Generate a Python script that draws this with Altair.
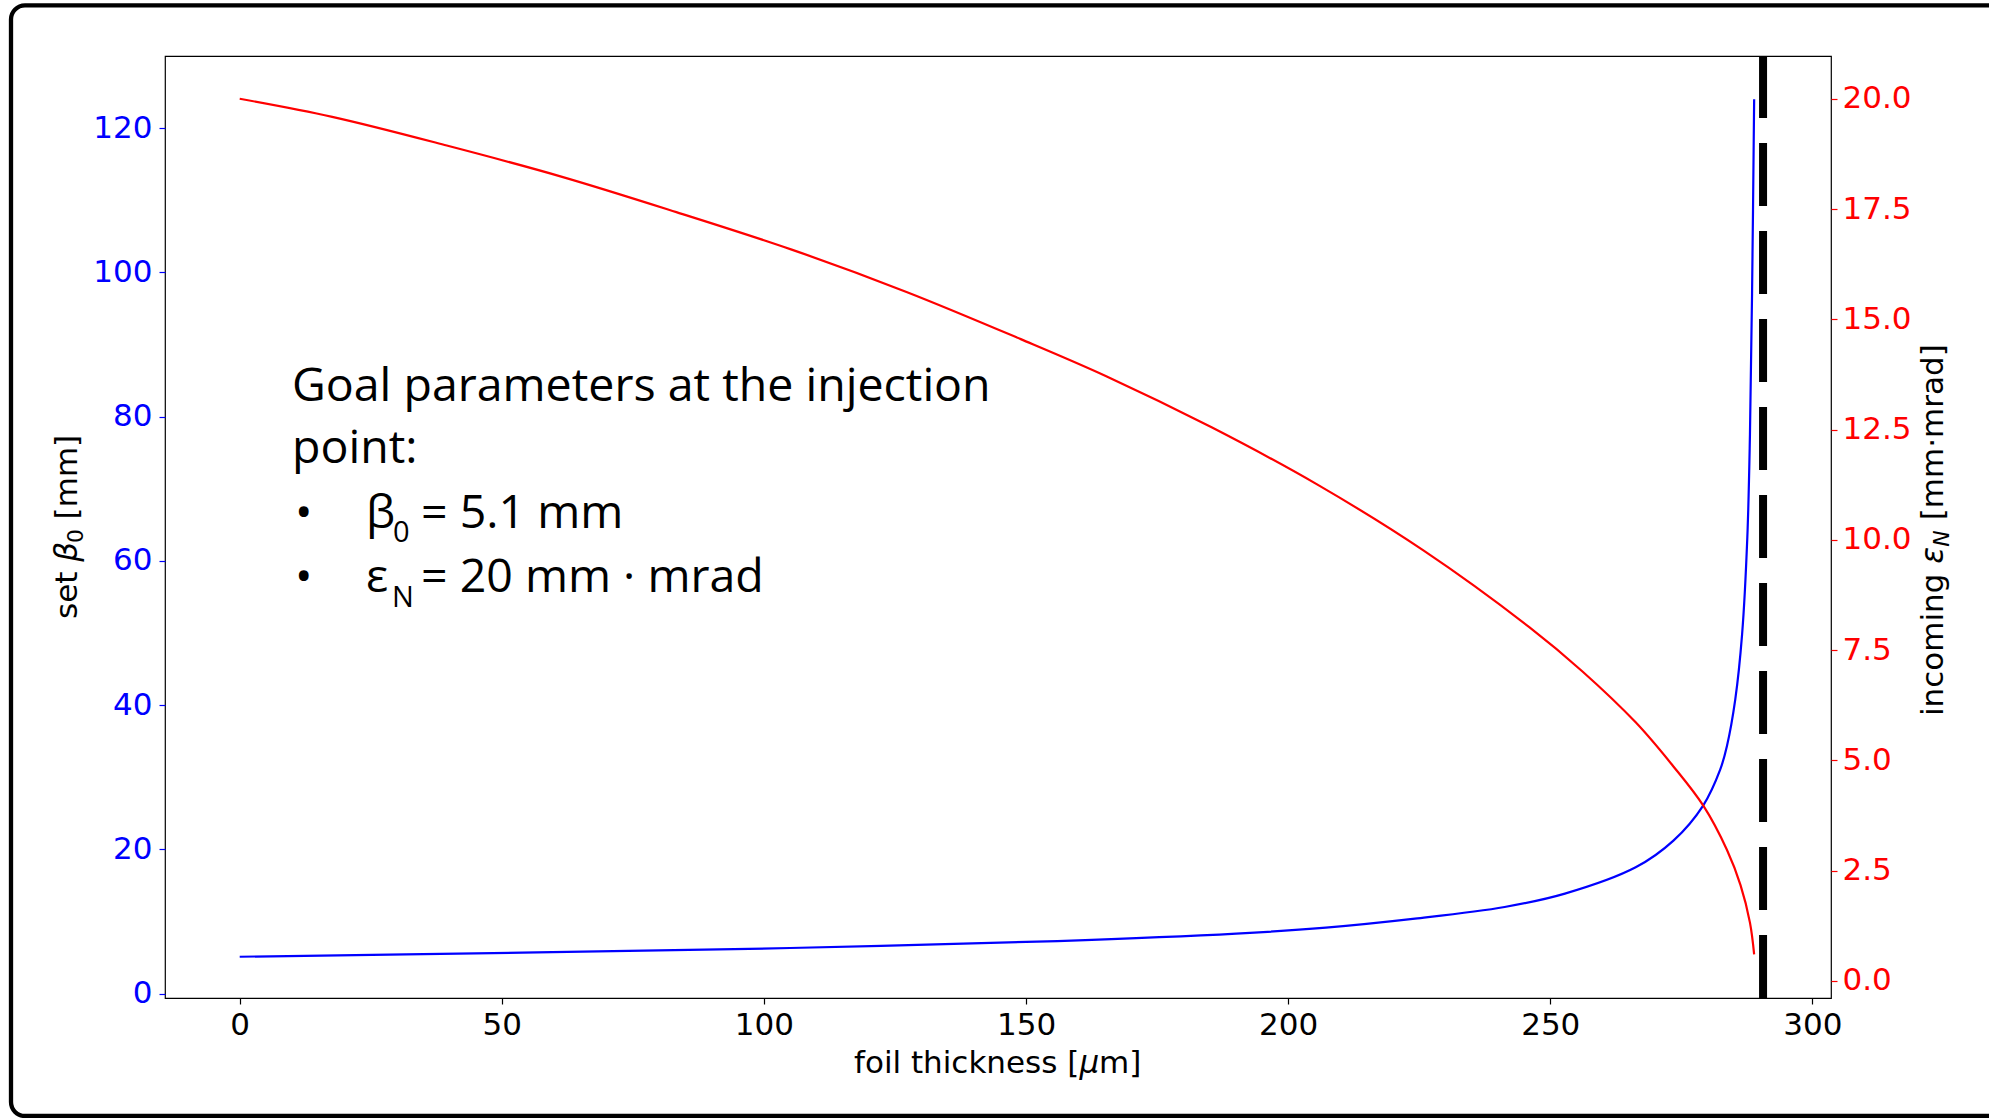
import altair as alt
import pandas as pd

# ---------------- data ----------------
thickness_red = [0, 17.65, 39.5, 61.5, 83.3, 105.3, 127.2, 149.0, 165.3, 185.4, 205.6,
                 225.8, 246.0, 256.1, 266.3, 273.5, 279.2, 283.7, 286.3, 288.1, 288.9]
emittance_in = [20.0, 19.59, 18.94, 18.23, 17.43, 16.58, 15.62, 14.55, 13.71, 12.55, 11.25,
                9.76, 8.02, 7.02, 5.86, 4.86, 3.97, 2.97, 2.17, 1.32, 0.60]

thickness_blue = [0, 53.9, 105.0, 156.0, 190.1, 207.2, 224.2, 241.3, 252.8, 266.3, 273.5,
                  279.2, 282.4, 283.7, 285.3, 286.6, 287.6, 288.1, 288.5, 288.9]
beta_set = [5.1, 5.67, 6.31, 7.28, 8.30, 9.14, 10.39, 12.0, 13.85, 17.5, 21.2,
            26.1, 31.0, 34.3, 40.8, 49.8, 63.3, 77.5, 97.0, 124.0]

limit_thickness = [290.6]

x_ticks = [0, 50, 100, 150, 200, 250, 300]
beta_ticks = [0, 20, 40, 60, 80, 100, 120]
eps_ticks = [0, 2.5, 5, 7.5, 10, 12.5, 15, 17.5, 20]

x_title_parts = ["foil thickness [", "μ", "m]"]
left_title_parts = ["set", "β", "0", "[mm]"]
right_title_parts = ["incoming", "ε", "N", "[mm·mrad]"]
note_lines = ["Goal parameters at the injection", "point:"]
bullet = "•"
bullet_beta = ["β", "0", "= 5.1 mm"]
bullet_eps = ["ε", "N", "= 20 mm · mrad"]

# ---------------- layout ----------------
W, H = 1666, 942
TICK_FONT = "DejaVu Sans"
NOTE_FONT = "Open Sans"

red_df = pd.DataFrame({"thickness": thickness_red, "emittance": emittance_in})
blue_df = pd.DataFrame({"thickness": thickness_blue, "beta": beta_set})
limit_df = pd.DataFrame({"thickness": limit_thickness})

x_scale = alt.Scale(domain=[-14.25, 303.56], nice=False, zero=False)
x_axis = alt.Axis(values=x_ticks, title="", grid=False, domain=False,
                  tickColor="black", tickSize=6, tickWidth=1.2,
                  labelColor="black", labelFont=TICK_FONT, labelFontSize=31,
                  labelPadding=6, labelFlush=False, labelOverlap=False)
x_enc = alt.X("thickness:Q", scale=x_scale, axis=x_axis)

blue = alt.Chart(blue_df).mark_line(color="#0000ff", strokeWidth=2.2, interpolate="catmull-rom").encode(
    x=x_enc,
    y=alt.Y("beta:Q",
            scale=alt.Scale(domain=[-0.62, 130.0], nice=False, zero=False),
            axis=alt.Axis(orient="left", values=beta_ticks, grid=False, domain=False,
                          tickColor="#0000ff", tickSize=6, tickWidth=1.2,
                          labelColor="#0000ff", labelFont=TICK_FONT, labelFontSize=31,
                          labelPadding=7, labelOverlap=False, labelFlush=False,
                          title="")),
)

red = alt.Chart(red_df).mark_line(color="#ff0000", strokeWidth=2.2, interpolate="catmull-rom").encode(
    x=x_enc,
    y=alt.Y("emittance:Q",
            scale=alt.Scale(domain=[-0.39, 20.97], nice=False, zero=False),
            axis=alt.Axis(orient="right", values=eps_ticks, format=".1f", grid=False, domain=False,
                          tickColor="#ff0000", tickSize=6, tickWidth=1.2,
                          labelColor="#ff0000", labelFont=TICK_FONT, labelFontSize=31,
                          labelPadding=5, labelOverlap=False, labelFlush=False,
                          title="")),
)

limit = alt.Chart(limit_df).mark_rule(color="black", strokeWidth=8, strokeDash=[63, 25],
                                       strokeCap="butt").encode(
    x=x_enc, y=alt.value(H), y2=alt.value(0))


def piece(txt, x, y, size, font, style="normal", angle=0, dy=0):
    return alt.Chart(alt.Data(values=[{"label": txt}])).mark_text(
        align="left", baseline="alphabetic", font=font, fontSize=size,
        fontStyle=style, angle=angle, dy=dy, color="black").encode(
        x=alt.value(x), y=alt.value(y), text="label:N")


# x axis title (italic mu, as in the math text of the original)
XT = 689
x_title = [
    piece(x_title_parts[0], XT, H + 75, 31, TICK_FONT),
    piece(x_title_parts[1], XT + 225.4, H + 75, 31, TICK_FONT, style="italic"),
    piece(x_title_parts[2], XT + 245.1, H + 75, 31, TICK_FONT),
]

# left axis title, rotated, with italic beta and subscript
LX = -87.7
LS = 563
left_title = [
    piece(left_title_parts[0], LX, LS, 31, TICK_FONT, angle=270),
    piece(left_title_parts[1], LX, LS - 57.2, 31, TICK_FONT, style="italic", angle=270),
    piece(left_title_parts[2], LX, LS - 75.9, 22, TICK_FONT, angle=270, dy=6),
    piece(left_title_parts[3], LX, LS - 99.6, 31, TICK_FONT, angle=270),
]

# right axis title, built from pieces so that the subscript can be drawn
RX = 1777.7
RS = 660
right_title = [
    piece(right_title_parts[0], RX, RS, 31, TICK_FONT, angle=270),
    piece(right_title_parts[1], RX, RS - 152.3, 31, TICK_FONT, style="italic", angle=270),
    piece(right_title_parts[2], RX, RS - 169.3, 22, TICK_FONT, style="italic", angle=270, dy=6),
    piece(right_title_parts[3], RX, RS - 195.7, 31, TICK_FONT, angle=270),
]

notes = [
    piece(note_lines[0], 127, 344.7, 46.5, NOTE_FONT),
    piece(note_lines[1], 127, 407.3, 46.5, NOTE_FONT),
    piece(bullet, 130, 472, 46.5, NOTE_FONT),
    piece(bullet_beta[0], 201, 472, 46.5, NOTE_FONT),
    piece(bullet_beta[1], 228, 486, 29, NOTE_FONT),
    piece(bullet_beta[2], 256, 472, 46.5, NOTE_FONT),
    piece(bullet, 130, 535.7, 46.5, NOTE_FONT),
    piece(bullet_eps[0], 201, 535.7, 46.5, NOTE_FONT),
    piece(bullet_eps[1], 227, 551, 29, NOTE_FONT),
    piece(bullet_eps[2], 256, 535.7, 46.5, NOTE_FONT),
]

frame = alt.Chart(alt.Data(values=[{"f": 1}])).mark_rect(
    fill="transparent", stroke="black", strokeWidth=4.3, cornerRadius=14).encode(
    x=alt.value(-154), x2=alt.value(1850), y=alt.value(-50.7), y2=alt.value(1060))

chart = alt.layer(blue, red, limit, *x_title, *left_title, *right_title, *notes, frame).resolve_scale(
    y="independent"
).properties(
    width=W, height=H,
    autosize=alt.AutoSizeParams(type="none"),
    padding={"left": 165, "top": 56, "right": 158, "bottom": 120},
    background="white",
).configure_view(stroke="black", strokeWidth=1.2)

chart.save("out.html", embed_options={"renderer": "svg", "actions": False})
